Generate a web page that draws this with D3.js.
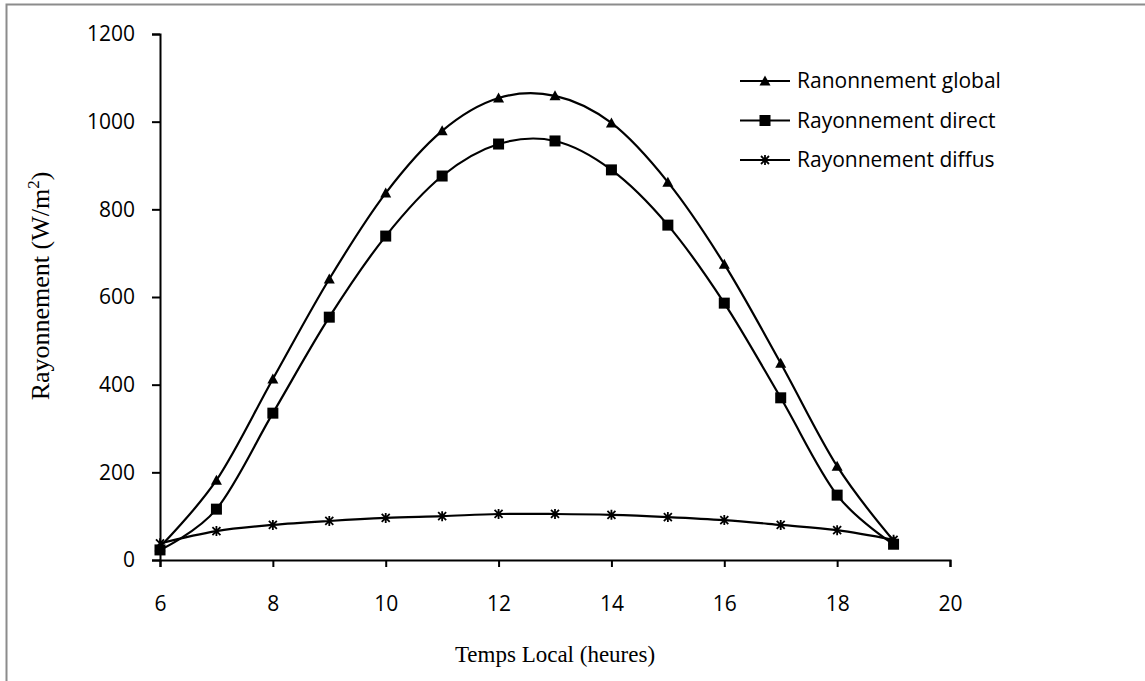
<!DOCTYPE html>
<html>
<head>
<meta charset="utf-8">
<script src="https://cdn.jsdelivr.net/npm/d3@7"></script>
<style>
  body { margin: 0; background: #fff; }
  svg { display: block; }
</style>
</head>
<body>
<svg width="1145" height="681"></svg>
<script>
// hours
var hours = [6, 7, 8, 9, 10, 11, 12, 13, 14, 15, 16, 17, 18, 19];

// W/m2
var global  = [30, 182, 413, 641, 837, 979, 1054, 1059, 997, 862, 675, 449, 214, 44];
var direct  = [23, 116, 335, 554, 739, 876, 949, 956, 890, 764, 586, 370, 148, 36];
var diffuse = [38, 66, 80, 89, 96, 100, 105, 105, 103, 98, 91, 80, 68, 46];

var xTicks = [6, 8, 10, 12, 14, 16, 18, 20];
var yTicks = [0, 200, 400, 600, 800, 1000, 1200];

var seriesNames = ["Ranonnement global", "Rayonnement direct", "Rayonnement diffus"];
var seriesData = [global, direct, diffuse];
var markers = ["triangle", "square", "star"];

var svg = d3.select('svg');

// outer frame
svg.append('rect')
   .attr('x', 6.5).attr('y', 4.5)
   .attr('width', 1150).attr('height', 700)
   .attr('fill', 'none')
   .attr('stroke', '#8c8c8c')
   .attr('stroke-width', 2);

var x = d3.scaleLinear().domain([6, 20]).range([160, 950]);
var y = d3.scaleLinear().domain([0, 1200]).range([560, 34]);

var tickFont = '"Open Sans", Lato, sans-serif';

var xAxis = svg.append('g')
   .attr('transform', 'translate(0,560)')
   .call(d3.axisBottom(x).tickValues(xTicks).tickSize(7).tickPadding(29).tickFormat(d3.format('d')));

var yAxis = svg.append('g')
   .attr('transform', 'translate(160,0)')
   .call(d3.axisLeft(y).tickValues(yTicks).tickSize(8).tickPadding(17).tickFormat(d3.format('d')));

[xAxis, yAxis].forEach(function(ax){
	ax.select('.domain').attr('stroke', '#000').attr('stroke-width', 2);
	ax.selectAll('.tick line').attr('stroke', '#000').attr('stroke-width', 2);
	ax.selectAll('.tick text')
	  .attr('fill', '#000')
	  .style('font-family', tickFont)
	  .style('font-size', '21px');
});

// axis titles
svg.append('text')
   .attr('x', 555).attr('y', 662)
   .attr('text-anchor', 'middle')
   .style('font-family', '"Liberation Serif", "Times New Roman", serif')
   .style('font-size', '23px')
   .text('Temps Local (heures)');

var yt = svg.append('text')
   .attr('transform', 'translate(49,286) rotate(-90)')
   .attr('text-anchor', 'middle')
   .style('font-family', '"Liberation Serif", "Times New Roman", serif')
   .style('font-size', '26px');
yt.append('tspan').text('Rayonnement (W/m');
yt.append('tspan').attr('dy', -10).style('font-size', '17px').text('2');
yt.append('tspan').attr('dy', 10).text(')');

var line = d3.line()
   .x(function(d, i){ return x(hours[i]); })
   .y(function(d){ return y(d); })
   .curve(d3.curveCardinal.tension(0));

function drawMarker(g, type, cx, cy){
	if (type === 'triangle') {
		g.append('path')
		 .attr('d', 'M' + cx + ',' + (cy - 5.5) + 'L' + (cx + 5.5) + ',' + (cy + 4.5) + 'L' + (cx - 5.5) + ',' + (cy + 4.5) + 'Z')
		 .attr('fill', '#000');
	} else if (type === 'square') {
		g.append('rect')
		 .attr('x', cx - 5.5).attr('y', cy - 5.5)
		 .attr('width', 11).attr('height', 11)
		 .attr('fill', '#000');
	} else {
		var p = 'M' + (cx - 4) + ',' + (cy - 4) + 'L' + (cx + 4) + ',' + (cy + 4)
		      + 'M' + (cx + 4) + ',' + (cy - 4) + 'L' + (cx - 4) + ',' + (cy + 4)
		      + 'M' + cx + ',' + (cy - 5) + 'L' + cx + ',' + (cy + 5);
		g.append('path').attr('d', p).attr('stroke', '#000').attr('stroke-width', 1.8).attr('fill', 'none');
	}
}

seriesData.forEach(function(data, s){
	var g = svg.append('g');
	g.append('path')
	 .datum(data)
	 .attr('d', line)
	 .attr('fill', 'none')
	 .attr('stroke', '#000')
	 .attr('stroke-width', 2.2);
	data.forEach(function(d, i){
		drawMarker(g, markers[s], x(hours[i]), y(d));
	});
});

// legend
var legend = svg.append('g');
seriesNames.forEach(function(name, s){
	var ly = 81 + s * 39.5;
	legend.append('line')
	      .attr('x1', 740).attr('x2', 790)
	      .attr('y1', ly).attr('y2', ly)
	      .attr('stroke', '#000').attr('stroke-width', 2.2);
	drawMarker(legend, markers[s], 765, ly);
	legend.append('text')
	      .attr('x', 797).attr('y', ly + 7)
	      .style('font-family', tickFont)
	      .style('font-size', '21px')
	      .text(name);
});
</script>
</body>
</html>
